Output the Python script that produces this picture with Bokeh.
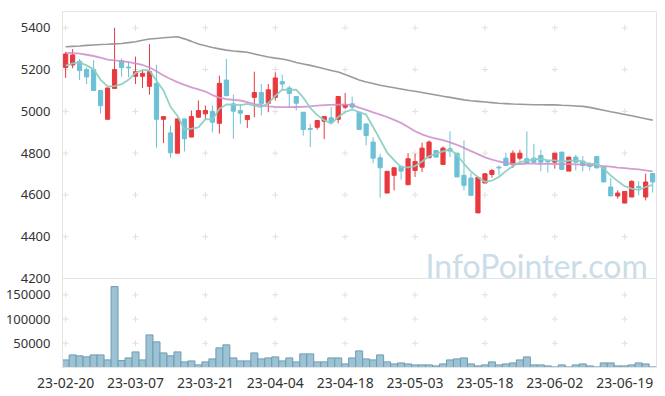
from bokeh.plotting import figure
from bokeh.layouts import column
from bokeh.models import FixedTicker, Range1d, Label, ColumnDataSource, NumeralTickFormatter
from bokeh.embed import file_html
from bokeh.resources import INLINE

# ---------------- data ----------------
date_labels = ["23-02-20", "23-03-07", "23-03-21", "23-04-04", "23-04-18",
               "23-05-03", "23-05-18", "23-06-02", "23-06-19"]

opens = [5210, 5222, 5240, 5200, 5200, 5100, 4962, 5110, 5242, 5212,
         5168, 5168, 5120, 5134, 4962, 4897, 4800, 4964, 4877, 4972,
         4988, 5000, 4943, 5150, 5036, 5004, 4961, 5067, 5090, 5039,
         5067, 5142, 5112, 5071, 4996, 4918, 4924, 4953, 4969, 4962,
         5020, 5036, 4996, 4940, 4853, 4778, 4609, 4694, 4737, 4649,
         4717, 4733, 4778, 4813, 4746, 4821, 4800, 4694, 4681, 4514,
         4657, 4698, 4733, 4776, 4745, 4776, 4773, 4776, 4789, 4762,
         4757, 4805, 4714, 4781, 4762, 4746, 4784, 4733, 4638, 4595,
         4561, 4590, 4640, 4590, 4702]
highs = [5285, 5298, 5251, 5210, 5245, 5100, 5112, 5400, 5253, 5240,
         5262, 5195, 5322, 5223, 4975, 4932, 4964, 4964, 5004, 5052,
         5028, 5028, 5171, 5251, 5080, 5036, 4980, 5190, 5131, 5131,
         5187, 5176, 5123, 5071, 4996, 4940, 4956, 4975, 5020, 5071,
         5088, 5071, 4996, 4940, 4876, 4797, 4713, 4730, 4737, 4800,
         4797, 4850, 4861, 4813, 4832, 4904, 4800, 4861, 4705, 4684,
         4705, 4725, 4741, 4802, 4813, 4816, 4904, 4845, 4816, 4762,
         4800, 4805, 4781, 4792, 4786, 4757, 4784, 4733, 4681, 4622,
         4617, 4670, 4665, 4702, 4702]
lows = [5160, 5206, 5150, 5131, 5100, 4990, 4962, 5110, 5166, 5163,
        5131, 5112, 5080, 4826, 4848, 4778, 4800, 4808, 4877, 4972,
        4964, 4900, 4893, 5075, 4869, 4940, 4921, 4972, 4980, 4996,
        5052, 5099, 5020, 5004, 4884, 4829, 4912, 4867, 4940, 4943,
        5012, 5004, 4913, 4837, 4752, 4587, 4609, 4622, 4673, 4649,
        4686, 4709, 4778, 4781, 4746, 4781, 4686, 4622, 4598, 4514,
        4657, 4683, 4694, 4741, 4729, 4765, 4752, 4750, 4713, 4707,
        4726, 4722, 4714, 4717, 4713, 4717, 4729, 4662, 4595, 4582,
        4561, 4590, 4598, 4574, 4611]
closes = [5275, 5270, 5195, 5165, 5100, 5027, 5112, 5200, 5210, 5208,
          5190, 5182, 5190, 4962, 4975, 4802, 4964, 4869, 4975, 5004,
          5004, 4948, 5134, 5075, 5001, 4991, 4980, 5090, 5036, 5103,
          5160, 5131, 5086, 5039, 4913, 4914, 4956, 4975, 4948, 5071,
          5033, 5020, 4913, 4884, 4776, 4730, 4713, 4730, 4714, 4773,
          4760, 4824, 4853, 4781, 4824, 4810, 4686, 4646, 4598, 4684,
          4701, 4717, 4729, 4741, 4800, 4800, 4752, 4757, 4757, 4758,
          4800, 4722, 4781, 4757, 4741, 4737, 4729, 4662, 4595, 4609,
          4617, 4665, 4636, 4662, 4662]

volumes = [15700, 26000, 24000, 21900, 26000, 26000, 15700, 167000, 14300, 19800,
           32200, 15700, 67300, 52900, 30100, 24000, 32200, 11600, 13600, 5400,
           11600, 17800, 40500, 46700, 19800, 13600, 13600, 30100, 17800, 19800,
           21900, 13600, 19800, 11600, 28100, 28100, 11600, 11600, 19800, 19800,
           7400, 19800, 34300, 17800, 15700, 26000, 11600, 7400, 9500, 7400,
           5400, 5400, 5400, 3300, 7400, 15700, 17800, 19800, 7400, 3300,
           5400, 11600, 5400, 7400, 9500, 15700, 21900, 5400, 5400, 3300,
           1200, 5400, 1200, 5400, 7400, 3300, 1200, 9500, 9500, 3300,
           3300, 5400, 9500, 7400, 1200]

ma5 = [5219, 5230, 5234, 5220, 5201, 5151, 5120, 5121, 5130, 5151,
       5184, 5198, 5196, 5146, 5100, 5022, 4979, 4914, 4917, 4923,
       4963, 4960, 5013, 5033, 5032, 5030, 5036, 5027, 5020, 5040,
       5074, 5104, 5103, 5104, 5066, 5017, 4982, 4959, 4941, 4973,
       4997, 5009, 4997, 4984, 4925, 4865, 4803, 4767, 4733, 4732,
       4738, 4760, 4785, 4798, 4808, 4818, 4791, 4749, 4713, 4685,
       4663, 4669, 4686, 4714, 4738, 4757, 4764, 4770, 4773, 4765,
       4765, 4759, 4764, 4764, 4760, 4748, 4749, 4725, 4693, 4666,
       4642, 4630, 4624, 4638, 4648]
ma20 = [5280, 5279, 5276, 5271, 5265, 5257, 5248, 5244, 5240, 5236,
        5230, 5222, 5210, 5192, 5172, 5155, 5140, 5127, 5115, 5105,
        5095, 5078, 5066, 5058, 5055, 5052, 5044, 5035, 5029, 5024,
        5021, 5020, 5020, 5021, 5022, 5024, 5027, 5030, 5031, 5032,
        5032, 5030, 5018, 5007, 4995, 4984, 4973, 4959, 4945, 4925,
        4905, 4890, 4878, 4870, 4862, 4852, 4840, 4825, 4810, 4795,
        4780, 4769, 4760, 4753, 4748, 4748, 4750, 4750, 4749, 4749,
        4748, 4747, 4747, 4746, 4745, 4743, 4741, 4738, 4735, 4731,
        4728, 4725, 4722, 4718, 4713]
ma60 = [5309, 5311, 5313, 5316, 5318, 5320, 5321, 5323, 5325, 5329,
        5333, 5340, 5346, 5349, 5352, 5355, 5357, 5347, 5335, 5322,
        5314, 5306, 5299, 5293, 5289, 5286, 5283, 5275, 5267, 5260,
        5255, 5251, 5243, 5234, 5227, 5220, 5212, 5204, 5196, 5188,
        5176, 5163, 5150, 5141, 5133, 5125, 5119, 5113, 5107, 5101,
        5096, 5090, 5084, 5078, 5072, 5067, 5061, 5055, 5051, 5048,
        5045, 5042, 5039, 5037, 5035, 5034, 5033, 5032, 5032, 5031,
        5031, 5029, 5028, 5026, 5024, 5019, 5012, 5005, 4998, 4992,
        4985, 4979, 4972, 4965, 4958]

price_ticks = [4200, 4400, 4600, 4800, 5000, 5200, 5400]
volume_ticks = [50000, 100000, 150000]

# ---------------- styling ----------------
UP = "#E8393F"
DOWN = "#6CC1D6"
FONT = "Noto Sans"
LINE = "#e4e4e4"
GRIDMARK = "#e0e0e0"

n = len(closes)
xs = list(range(n))
date_pos = list(range(0, n, 10))[:len(date_labels)]
cols = [UP if c >= o else DOWN for o, c in zip(opens, closes)]
src = ColumnDataSource(dict(
    x=xs, o=opens, h=highs, l=lows, c=closes,
    top=[max(o, c) for o, c in zip(opens, closes)],
    bot=[min(o, c) for o, c in zip(opens, closes)],
    col=cols, v=volumes, ma5=ma5, ma20=ma20, ma60=ma60))

xr = Range1d(-0.45, n - 0.45)

# ---------------- price panel ----------------
p = figure(frame_width=594, frame_height=267, x_range=xr, y_range=Range1d(4200, 5478),
           output_backend="svg", toolbar_location=None, x_axis_location=None,
           min_border_left=62, min_border_right=5, min_border_top=11, min_border_bottom=9)
p.grid.visible = False
p.outline_line_color = LINE
p.background_fill_color = "white"
p.border_fill_color = "white"

gx = [x for x in date_pos for y in price_ticks[1:]]
gy = [y for x in date_pos for y in price_ticks[1:]]
p.scatter(gx, gy, marker="cross", size=6, line_color=GRIDMARK, line_width=1)

p.segment(x0="x", y0="l", x1="x", y1="h", line_color="col", line_width=1, source=src)
p.vbar(x="x", width=0.6, top="top", bottom="bot", fill_color="col", line_color="col",
       line_width=1, source=src)

p.line("x", "ma60", source=src, line_color="#9a9a9a", line_width=1.6)
p.line("x", "ma20", source=src, line_color="#cf92cc", line_width=1.8, line_alpha=0.9)
p.line("x", "ma5", source=src, line_color="#8ccfc3", line_width=1.8, line_alpha=0.95)

p.yaxis.ticker = FixedTicker(ticks=price_ticks)
p.yaxis.axis_line_color = LINE
p.yaxis.major_tick_line_color = None
p.yaxis.minor_tick_line_color = None
p.yaxis.major_label_standoff = 6
p.yaxis.major_label_text_font = FONT
p.yaxis.major_label_text_font_size = "13px"
p.yaxis.major_label_text_color = "#333333"

p.add_layout(Label(x=83.3, y=4264, text="InfoPointer.com", text_align="right",
                   text_baseline="alphabetic", text_font_size="32px",
                   text_font="Lato", text_color="#cadde8"))

# ---------------- volume panel ----------------
q = figure(frame_width=594, frame_height=89, x_range=xr, y_range=Range1d(0, 183700),
           output_backend="svg", toolbar_location=None,
           min_border_left=62, min_border_right=5, min_border_top=0, min_border_bottom=25)
q.margin = (-9, 0, 0, 0)
q.grid.visible = False
q.outline_line_color = LINE
q.background_fill_color = "white"
q.border_fill_color = None

vx = [x for x in date_pos for y in volume_ticks]
vy = [y for x in date_pos for y in volume_ticks]
q.scatter(vx, vy, marker="cross", size=6, line_color=GRIDMARK, line_width=1)

q.vbar(x="x", width=1.0, top="v", bottom=0, fill_color="#9cc2d3",
       line_color="#6d9db4", line_width=1, source=src)

q.yaxis.ticker = FixedTicker(ticks=volume_ticks)
q.yaxis.formatter = NumeralTickFormatter(format="0")
q.yaxis.axis_line_color = LINE
q.yaxis.major_tick_line_color = None
q.yaxis.minor_tick_line_color = None
q.yaxis.major_label_standoff = 6
q.yaxis.major_label_text_font = FONT
q.yaxis.major_label_text_font_size = "13px"
q.yaxis.major_label_text_color = "#333333"

q.xaxis.ticker = FixedTicker(ticks=date_pos)
q.xaxis.major_label_overrides = {pos: lab for pos, lab in zip(date_pos, date_labels)}
q.xaxis.axis_line_color = LINE
q.xaxis.major_tick_line_color = None
q.xaxis.minor_tick_line_color = None
q.xaxis.major_label_standoff = 4
q.xaxis.major_label_text_font = FONT
q.xaxis.major_label_text_font_size = "14px"
q.xaxis.major_label_text_color = "#333333"

layout = column(p, q, spacing=0)
open("out.html", "w").write(file_html(layout, INLINE))
